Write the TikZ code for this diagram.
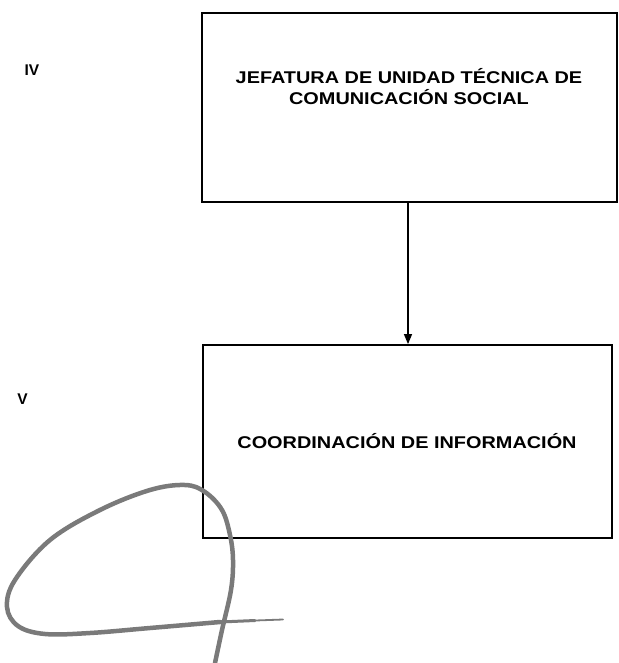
\documentclass[tikz,border=0pt]{standalone}
\usepackage{fontspec}
\setmainfont{Liberation Sans}
\newfontfamily\boxfont[FakeStretch=1.17]{Liberation Sans}
\usetikzlibrary{arrows.meta}
\begin{document}
\begin{tikzpicture}[x=1pt,y=-1pt,
  unitbox/.style={draw=black, line width=1.8pt, inner sep=0pt},
  boxtext/.style={font=\boxfont\bfseries\fontsize{17}{21}\selectfont, align=center, inner sep=0pt},
  levellabel/.style={font=\bfseries\fontsize{15.5}{18}\selectfont, inner sep=0pt},
  link/.style={line width=1.3pt, -{Triangle[length=10pt,width=8pt]}},
  sig/.style={draw=black!52, line width=4.5pt, line cap=round, line join=round}
]
\fill[white] (0,0) rectangle (618,663);
\useasboundingbox (0,0) rectangle (618,663);

% boxes
\node[unitbox, minimum width=415pt, minimum height=189pt] (jef) at (409.5,107.5) {};
\node[unitbox, minimum width=409pt, minimum height=193pt] (coo) at (407.5,441.5) {};

% texts
\node[boxtext] (jeftext) at (409,87) {JEFATURA DE UNIDAD TÉCNICA DE\\COMUNICACIÓN SOCIAL};
\node[boxtext, anchor=base] (cootext) at (407,448) {COORDINACIÓN DE INFORMACIÓN};

% level labels
\node[levellabel] (iv) at (32,70) {IV};
\node[levellabel] (v) at (22.5,399) {V};

% connector
\draw[link] ([xshift=-1.5pt]jef.south) -- ([xshift=-1.5pt]jef.south |- coo.north);

% signature
\draw[sig] plot[smooth, tension=0.6] coordinates {
  (215,663) (222,630) (231,590) (233,560) (230,535) (222,510) (205,492)
  (185,485) (150,490) (100,510) (50,540) (15,580) (7,607) (18,626)
  (45,634) (90,633) (150,628) (220,622)};
\draw[draw=black!52, line width=3pt, line cap=round] (220,622) -- (255,620.5);
\draw[draw=black!52, line width=1.8pt, line cap=round] (250,620.7) -- (283,619.5);
\end{tikzpicture}
\end{document}
